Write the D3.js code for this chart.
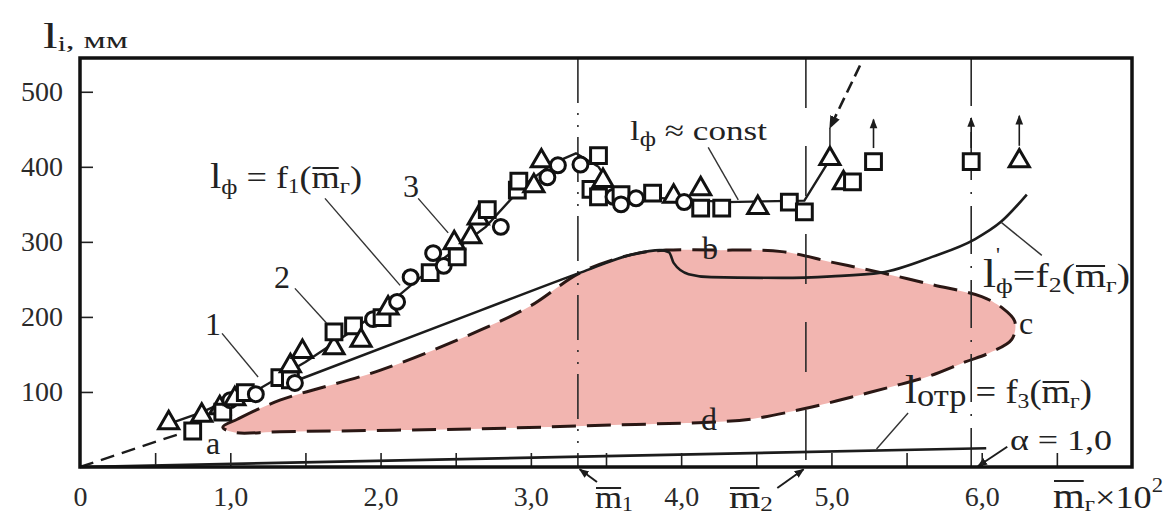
<!DOCTYPE html>
<html><head><meta charset="utf-8">
<script src="https://cdn.jsdelivr.net/npm/d3@7"></script>
<style>html,body{margin:0;padding:0;background:#fff;}svg{display:block;}</style>
</head><body>
<svg id="chart" width="1173" height="515"></svg>
<script>
// ---------------- data ----------------
const xTickLabels = ["0","1,0","2,0","3,0","4,0","5,0","6,0"];
const xLabelValues = [0,1,2,3,4,5,6];
const xMinorTicks = [0.5,1,1.5,2,2.5,3,3.5,4,4.5,5,5.5,6,6.5];
const yTickValues = [100,200,300,400,500];

const triangles = [[0.59,60],[0.81,70],[0.93,80],[1.03,92],[1.4,136],[1.48,155],[1.69,160],[1.87,170],[2.05,213],[2.49,300],[2.6,308],[2.65,333],[3.02,376],[3.07,409],[3.48,383],[3.95,362],[4.13,372],[4.51,347],[4.99,412],[5.08,380],[6.25,409]];
const squares = [[0.75,48],[0.95,73],[1.1,99],[1.33,119],[1.4,116],[1.69,180],[1.82,188],[2.01,199],[2.33,259],[2.51,280],[2.71,343],[2.91,369],[2.92,381],[3.4,370],[3.45,415],[3.45,360],[3.6,363],[3.81,365],[4.13,345],[4.27,345],[4.72,353],[4.82,340],[5.14,380],[5.28,407],[5.93,407]];
const circles = [[1.0,89],[1.17,97],[1.43,112],[1.95,197],[2.11,220],[2.2,253],[2.35,285],[2.42,268],[2.8,320],[3.11,386],[3.18,402],[3.33,403],[3.55,360],[3.6,350],[3.7,358],[4.02,353]];

// experimental curve through points
const expLine = [[0.6,58],[0.8,72],[1.0,90],[1.2,105],[1.5,140],[1.8,180],[2.1,225],[2.4,275],[2.7,320],[2.95,375],[3.15,405],[3.3,418],[3.45,400],[3.55,370],[3.7,360],[4.0,357],[4.3,353],[4.82,355],[4.99,410]];
// dashed line from origin
const originDash = [[0,0],[0.75,50]];
// l_ф = f1 straight line + f2 continuation
const solidF = [[1.45,116],[2.67,209],[3.33,259],[3.67,283],[3.86,289],[3.92,286],[3.95,272],[4.05,257],[4.2,253],[4.67,252],[5.0,254],[5.33,259],[5.67,280],[5.95,303],[6.13,327],[6.3,363]];
// l_отр = f3
const f3Line = [[0,0],[6.03,25]];
// pink region boundary a-b-c-d
const region = [[0.95,53],[1.05,64],[1.33,89],[2.0,129],[2.67,183],[3.0,215],[3.33,259],[3.67,283],[3.9,289],[4.22,289],[4.67,287],[5.0,273],[5.33,259],[5.67,243],[6.0,227],[6.13,213],[6.22,194],[6.2,170],[6.05,152],[5.89,140],[5.65,121],[5.4,107],[5.13,93],[4.87,80],[4.47,64],[4.22,60],[3.55,56],[2.67,51],[1.33,47],[1.03,46]];
// vertical reference lines m1, m2, and at ~6
const vLines = [{v:3.313,dash:"45,10,2,10,2,10"},{v:4.83,dash:"50,38"},{v:5.93,dash:"48,12,2,12"}];
// upward arrows above last points
const upArrows = [[5.28,425,463],[5.93,425,465],[6.25,428,468]];
// dashed arrow to the triangle at 4.99
const dashArrow = [[5.19,535],[4.99,452]];
const dashArrowStem = [[4.99,452],[4.99,428]];

// leader lines (data units)
const leaders = [
  [[1.63,358],[2.13,242]],
  [[2.25,358],[2.45,312]],
  [[1.43,238],[1.64,192]],
  [[0.945,178],[1.185,120]],
  [[4.18,426],[4.38,356]],
  [[6.13,326],[6.4,282]],
  [[5.51,72],[5.3,24]]
];
const pointerArrows = [
  [[6.17,27],[5.975,1]],
  [[3.44,-20],[3.325,-3]],
  [[4.64,-28],[4.815,-3]]
];

// ---------------- layout ----------------
const L=80,R=1132,T=58,B=467;
const FONT="'Liberation Serif','Times New Roman',serif";
const INK="#1c1c1c";

const svg=d3.select("#chart");
const x=d3.scaleLinear().domain([0,7]).range([L,R]);
const y=d3.scaleLinear().domain([0,545]).range([B,T]);
const line=d3.line().x(d=>x(d[0])).y(d=>y(d[1]));

// defs
const defs=svg.append("defs");
defs.append("marker").attr("id","ah").attr("viewBox","0 0 10 10").attr("refX",9).attr("refY",5)
  .attr("markerWidth",5).attr("markerHeight",5).attr("orient","auto").attr("markerUnits","strokeWidth")
  .append("path").attr("d","M0,1 L10,5 L0,9 Z").attr("fill",INK);
defs.append("marker").attr("id","ah2").attr("viewBox","0 0 10 10").attr("refX",9).attr("refY",5)
  .attr("markerWidth",7).attr("markerHeight",6).attr("orient","auto").attr("markerUnits","strokeWidth")
  .append("path").attr("d","M0,1 L10,5 L0,9 Z").attr("fill",INK);

// pink region
svg.append("path").datum(region)
  .attr("d",d3.line().x(d=>x(d[0])).y(d=>y(d[1])).curve(d3.curveCatmullRomClosed.alpha(0.5)))
  .attr("fill","#f2b5b0").attr("stroke","#2a1714").attr("stroke-width",3).attr("stroke-dasharray","24,11");

// vertical lines
svg.selectAll(".vl").data(vLines).join("line")
  .attr("x1",d=>x(d.v)).attr("x2",d=>x(d.v)).attr("y1",T).attr("y2",B)
  .attr("stroke","#2a2a2a").attr("stroke-width",1.6).attr("stroke-dasharray",d=>d.dash);

// f3 line
svg.append("path").datum(f3Line).attr("d",line).attr("fill","none").attr("stroke",INK).attr("stroke-width",2.6);
// origin dashed
svg.append("path").datum(originDash).attr("d",line).attr("fill","none").attr("stroke",INK).attr("stroke-width",2.4).attr("stroke-dasharray","14,8");
// solid f1/f2
svg.append("path").datum(solidF).attr("d",d3.line().x(d=>x(d[0])).y(d=>y(d[1])).curve(d3.curveMonotoneX))
  .attr("fill","none").attr("stroke",INK).attr("stroke-width",2.6);
// experimental line
svg.append("path").datum(expLine).attr("d",line).attr("fill","none").attr("stroke",INK).attr("stroke-width",2.4);

// arrows above points
svg.selectAll(".ua").data(upArrows).join("line")
  .attr("x1",d=>x(d[0])).attr("x2",d=>x(d[0])).attr("y1",d=>y(d[1])).attr("y2",d=>y(d[2]))
  .attr("stroke",INK).attr("stroke-width",1.6).attr("marker-end","url(#ah2)");
svg.append("path").datum(dashArrow).attr("d",line).attr("fill","none").attr("stroke",INK)
  .attr("stroke-width",2.6).attr("stroke-dasharray","12,6").attr("marker-end","url(#ah)");
svg.append("path").datum(dashArrowStem).attr("d",line).attr("fill","none").attr("stroke",INK).attr("stroke-width",1.4);

// markers
const mk=svg.append("g").attr("fill","#fff").attr("stroke","#111").attr("stroke-width",3);
const all=[];
triangles.forEach(p=>all.push({t:"tri",p}));
squares.forEach(p=>all.push({t:"sq",p}));
circles.forEach(p=>all.push({t:"ci",p}));
all.sort((a,b)=>a.p[0]-b.p[0]);
const sym={tri:d3.symbol(d3.symbolTriangle,175),sq:d3.symbol(d3.symbolSquare,250),ci:d3.symbol(d3.symbolCircle,175)};
mk.selectAll("path").data(all).join("path")
  .attr("d",d=>sym[d.t]())
  .attr("transform",d=>`translate(${x(d.p[0])},${y(d.p[1])+(d.t==="tri"?1:0)})`);

// leader lines
svg.selectAll(".ld").data(leaders).join("path").attr("d",line).attr("fill","none").attr("stroke","#333").attr("stroke-width",1.4);
svg.selectAll(".pa").data(pointerArrows).join("path").attr("d",line).attr("fill","none").attr("stroke",INK).attr("stroke-width",2).attr("marker-end","url(#ah)");

// axes
const yAxis=d3.axisLeft(y).tickValues(yTickValues).tickSizeInner(-13).tickSizeOuter(0).tickPadding(17).tickFormat(d3.format("d"));
const gy=svg.append("g").attr("transform",`translate(${L},0)`).call(yAxis);
const xTicks=d3.axisBottom(x).tickValues(xMinorTicks).tickSizeInner(-14).tickSizeOuter(0).tickFormat("");
const gx=svg.append("g").attr("transform",`translate(0,${B})`).call(xTicks);
const xLab=d3.axisBottom(x).tickValues(xLabelValues).tickSize(0).tickPadding(19).tickFormat((d,i)=>xTickLabels[i]);
const gxl=svg.append("g").attr("transform",`translate(0,${B})`).call(xLab);
[gy,gx,gxl].forEach(g=>{g.select(".domain").remove();
  g.selectAll("line").attr("stroke","#222").attr("stroke-width",1.6);
  g.selectAll("text").attr("font-family",FONT).attr("font-size",28).attr("fill","#2a2a2a");});

// frame
svg.append("rect").attr("x",L).attr("y",T).attr("width",R-L).attr("height",B-T)
  .attr("fill","none").attr("stroke","#111").attr("stroke-width",3.5);

// rich text helper: segments with size, baseline shift, optional overline (o = px above baseline)
function rich(px,py,segs,w){
  const t=svg.append("text").attr("x",px).attr("y",py).attr("font-family",FONT).attr("fill","#222");
  let base=0, idx=0; const overs=[];
  segs.forEach(s=>{
    const ts=t.append("tspan").text(s.t).attr("font-size",s.s||28);
    const dy=s.dy||0; ts.attr("dy",dy-base); base=dy;
    if(s.o) overs.push({i:idx,n:s.t.length,o:s.o});
    idx+=s.t.length;
  });
  if(w) t.attr("textLength",w).attr("lengthAdjust","spacingAndGlyphs");
  const n=t.node();
  overs.forEach(o=>{
    const a=n.getStartPositionOfChar(o.i), b=n.getEndPositionOfChar(o.i+o.n-1);
    svg.append("line").attr("x1",a.x+1).attr("x2",b.x-1).attr("y1",a.y-o.o).attr("y2",a.y-o.o)
      .attr("stroke","#222").attr("stroke-width",2);
  });
  return t;
}
rich(43,48,[{t:"l",s:36},{t:"i",s:20,dy:3},{t:", мм",s:24,dy:0}],85);
rich(210,188,[{t:"l",s:36},{t:"ф",s:22,dy:6},{t:" = f",s:32},{t:"1",s:20,dy:5},{t:"(",s:32},{t:"m",s:32,o:20},{t:"г",s:22,dy:5},{t:")",s:32}],152);
rich(403,197,[{t:"3",s:32}]);
rich(274,288,[{t:"2",s:32}]);
rich(205,335,[{t:"1",s:32}]);
rich(630,140,[{t:"l",s:28},{t:"ф",s:20,dy:6},{t:" ≈ const",s:28}],137);
rich(702,259,[{t:"b",s:32}]);
rich(701,430,[{t:"d",s:32}]);
rich(1019,334,[{t:"c",s:32}]);
rich(206,454,[{t:"a",s:32}]);
rich(996,262,[{t:"'",s:22}]);
rich(983,287,[{t:"l",s:40},{t:"ф",s:22,dy:6},{t:"=f",s:34},{t:"2",s:22,dy:5},{t:"(",s:34},{t:"m",s:34,o:21},{t:"г",s:22,dy:5},{t:")",s:34}],147);
rich(905,403,[{t:"l",s:40},{t:"отр",s:32,dy:3},{t:" = f",s:34},{t:"3",s:22,dy:5},{t:"(",s:34},{t:"m",s:34,o:21},{t:"г",s:22,dy:5},{t:")",s:34}],187);
rich(1010,450,[{t:"α = 1,0",s:30}],102);
rich(595,508,[{t:"m",s:32,o:20},{t:"1",s:20,dy:3}],38);
rich(729,508,[{t:"m",s:32,o:20},{t:"2",s:20,dy:3}],44);
rich(1053,508,[{t:"m",s:36,o:27},{t:"г",s:22,dy:3},{t:"×10",s:32,dy:0},{t:"2",s:20,dy:-16}],110);
</script>
</body></html>
